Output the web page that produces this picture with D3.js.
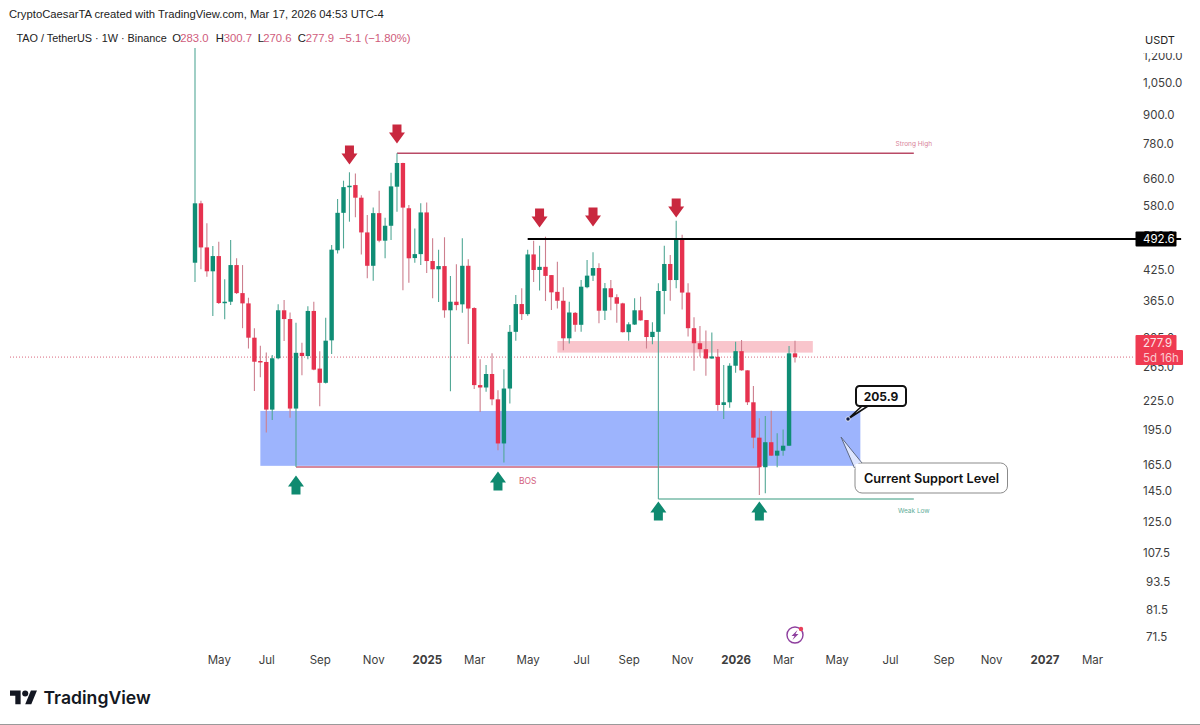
<!DOCTYPE html>
<html>
<head>
<meta charset="utf-8">
<script src="https://cdnjs.cloudflare.com/ajax/libs/d3/7.8.5/d3.min.js"></script>
<style>
  html, body { margin: 0; padding: 0; background: #fff; }
  text { font-family: Inter, "Noto Sans", sans-serif; }
  .tick text { fill: #3d3d3d; }
</style>
</head>
<body>
<div id="chart"></div>
<script>
// weekly candles, first bar is the week of Apr 8 2024
var firstWeek = "2024-04-08", lastWeek = "2026-03-16";

var opens = [439.2,585.8,473,421.3,453.6,361.7,363.5,434.2,379,360.6,305.3,272.7,271.4,215.4,276.3,348.7,334.2,216.5,283.7,279.3,347.6,262.8,245.3,301.4,466.6,559.4,633.7,640,602,508.7,432.7,558.6,488.7,525.4,635,712.3,572,449.2,457.9,560.5,442.8,425.4,432.1,348.7,363.5,358.9,432.7,352.5,242.6,239.8,256,226.4,182.8,238.6,314.1,359.4,342.3,457.2,424,430.5,413.6,381.3,365.2,304.4,344.4,325,390,412.5,428,348,388,371.5,360.6,313.6,325.4,348.7,332.6,306.3,314.1,382.9,436.5,403.8,492,380,319.7,297.2,288.7,276,278.3,220.3,223.2,266.5,286,260.6,223.2,188,162.9,183.9,172.3,176.5,180.8,283];
var highs = [1245,593.3,531.7,476.1,486.4,405.2,490.4,448.7,434.2,370.6,319.7,293.6,284.2,280.6,358.9,366.5,345,328.3,298,355.8,363.5,286,336.3,478.5,598.2,653.8,681,677.3,609,553.4,573.8,622.8,546.4,679.7,746.7,713.5,581,518.6,585.8,587.8,494.4,467.9,496.9,411.9,435.7,494.4,446.5,354,274.9,267.4,283,236.5,261.9,324.5,375.5,388,467.9,488.7,477,498.2,413.6,441.3,390,363.5,345.7,403.8,445,462.3,438,398,403.8,377,361.7,329,369.5,372.5,332.6,329,397.5,477,456,538.5,503,397.5,337,323,316,313,289,267.4,269.7,299.4,301.9,260.6,241.5,206.5,208.9,214.3,192,195.7,293.3,300.7];
var lows = [399.9,425.6,410.3,339.1,359.4,333.7,357.6,377.2,319.7,289.7,235.8,251.9,192.7,204.8,274.9,300.4,207.1,163.1,254.6,274.9,260.6,219,244.6,282,459.5,470.7,535.9,547.4,457.2,407.1,402.4,485,448.7,490.4,562.5,384.3,398.5,439.2,434.2,418,369.5,362.9,336.3,235.5,348.7,344.4,296.2,238,213,234.9,220,176.8,166.7,222,300.9,332.6,339.6,400,384,364.7,349,351.7,287.3,297,314.1,314.1,388,402,327.3,332.6,348.7,328.3,313,300.9,324.5,331.6,289.7,295.8,139.7,342,365.2,388,350,306.9,260.2,278.8,254,275.5,214.3,205.9,217.4,257.6,260.2,220.3,178.6,142.4,143.5,172,162.9,172.3,180.5,270.6];
var closes = [585.8,473,421.3,453.6,361.2,363.5,434.2,379,360.6,305.3,271.7,271.4,215.4,276.3,348.7,334.2,216.5,283.7,279.3,347.6,261.5,245.3,300.9,467.9,559.4,633.7,638,602,508.7,432.7,558.6,488.7,525.4,636,712.3,573.8,448.7,457.9,560.5,442.8,425.4,432.1,348.7,363.5,357.6,432.7,351.7,242.6,239.8,256,226.4,182.8,238.6,314.1,359.4,342.3,457.2,424,430.5,412,380.4,365.2,304.4,345,325,391,412.5,428,348,388,371.5,360,313.6,325.8,348.7,332,306.3,314.1,382.9,436.5,403.8,490.4,380,319.7,297.2,288.7,276,278.8,220.3,223.2,266.5,286,260.6,223.2,188,162.9,183.9,172.3,176.5,180.8,283,277.9];

// price axis
var priceTicks = [1200,1050,900,780,660,580,500,425,365,305,265,225,195,165,145,125,107.5,93.5,81.5,71.5];
// time axis, each label sits on the first weekly bar of its month
var timeTicks = ["2024-05-06","2024-07-01","2024-09-02","2024-11-04","2025-01-06","2025-03-03","2025-05-05","2025-07-07","2025-09-01","2025-11-03","2026-01-05","2026-03-02","2026-05-04","2026-07-06","2026-09-07","2026-11-02","2027-01-04","2027-03-01"];
var timeLabels = ["May","Jul","Sep","Nov","2025","Mar","May","Jul","Sep","Nov","2026","Mar","May","Jul","Sep","Nov","2027","Mar"];

// drawings on the chart, as week + price
var downArrows = [["2024-10-07",740.6],["2024-12-02",820],["2025-05-19",545.6],["2025-07-21",548],["2025-10-27",572.7]];
var upArrows = [["2024-08-05",149.4],["2025-03-31",152.4],["2025-10-06",131.8],["2026-02-02",131.8]];

var parseDay = d3.utcParse("%Y-%m-%d");
var weeks = d3.utcMonday.range(parseDay(firstWeek), d3.utcDay.offset(parseDay(lastWeek), 1));
var candles = weeks.map(function(w, i) {
    return {date: w, open: opens[i], high: highs[i], low: lows[i], close: closes[i]};
});

var width = 1200, height = 725;
var svg = d3.select("#chart").append("svg")
    .attr("width", width)
    .attr("height", height)
    .style("display", "block");

var x = d3.scaleUtc()
    .domain([parseDay(firstWeek), parseDay(lastWeek)])
    .range([195, 795]);
var y = d3.scaleLog()
    .domain([1050, 71.5])
    .range([83, 637]);
var barW = (x(weeks[1]) - x(weeks[0])) * 0.74;

var greenBody = "#0f8d75", redBody = "#e6324f";
var greenWick = "#52a896", redWick = "#cd7f8e";

// support zone + resistance zone
function zone(from, to, top, bottom, fill) {
    svg.append("rect")
        .attr("x", x(parseDay(from)))
        .attr("y", y(top))
        .attr("width", x(parseDay(to)) - x(parseDay(from)))
        .attr("height", y(bottom) - y(top))
        .attr("fill", fill);
}
zone("2024-06-24", "2026-06-01", 214, 164, "#9db4fd");
zone("2025-06-09", "2026-04-06", 300.4, 284, "#f9c5cc");

function level(from, to, price, color, w) {
    svg.append("line")
        .attr("x1", x(parseDay(from)))
        .attr("x2", x(parseDay(to)))
        .attr("y1", y(price))
        .attr("y2", y(price))
        .attr("stroke", color)
        .attr("stroke-width", w);
}
level("2024-08-05", "2026-02-02", 163.1, "#c9627c", 1.5);
level("2024-12-02", "2026-08-03", 746.7, "#b94a66", 1.5);
level("2025-10-06", "2026-08-03", 139.7, "#78bba8", 1.5);

// last price dotted line
svg.append("line")
    .attr("x1", 10)
    .attr("x2", 1135)
    .attr("y1", y(closes[closes.length - 1]))
    .attr("y2", y(closes[closes.length - 1]))
    .attr("stroke", "#d9667c")
    .attr("stroke-width", 1)
    .attr("stroke-dasharray", "1 2");

// candles
var candle = svg.append("g").selectAll("g").data(candles).enter().append("g");
candle.append("line")
    .attr("x1", function(d) { return x(d.date); })
    .attr("x2", function(d) { return x(d.date); })
    .attr("y1", function(d) { return y(d.high); })
    .attr("y2", function(d) { return y(d.low); })
    .attr("stroke-width", 1.1)
    .attr("stroke", function(d) { return d.close >= d.open ? greenWick : redWick; });
candle.append("rect")
    .attr("x", function(d) { return x(d.date) - barW / 2; })
    .attr("width", barW)
    .attr("y", function(d) { return y(Math.max(d.open, d.close)); })
    .attr("height", function(d) { return Math.max(1.5, Math.abs(y(d.open) - y(d.close))); })
    .attr("fill", function(d) { return d.close >= d.open ? greenBody : redBody; });

// black level + its label
level("2025-05-05", "2027-06-14", 492.6, "#000", 2);

// arrows
var downShape = "M-4.5,-9.5 H4.5 V-1.5 H8 L0,9.5 L-8,-1.5 H-4.5 Z";
var upShape = "M-4.5,9.5 H4.5 V1.5 H8 L0,-9.5 L-8,1.5 H-4.5 Z";
svg.append("g").selectAll("path").data(downArrows).enter().append("path")
    .attr("d", downShape)
    .attr("fill", "#c9283f")
    .attr("transform", function(d) { return "translate(" + x(parseDay(d[0])) + "," + y(d[1]) + ")"; });
svg.append("g").selectAll("path").data(upArrows).enter().append("path")
    .attr("d", upShape)
    .attr("fill", "#0f8a70")
    .attr("transform", function(d) { return "translate(" + x(parseDay(d[0])) + "," + y(d[1]) + ")"; });

// small notes
function note(week, price, txt, color, size, anchor) {
    svg.append("text")
        .attr("x", x(parseDay(week)))
        .attr("y", y(price))
        .attr("text-anchor", anchor || "middle")
        .attr("fill", color)
        .attr("font-size", size)
        .text(txt);
}
note("2026-08-03", 775, "Strong High", "#d8839a", 6.5);
note("2025-05-05", 150, "BOS", "#d4627f", 8.5);
note("2026-08-03", 130.5, "Weak Low", "#5fae99", 6.5);

// callouts
svg.append("path")
    .attr("d", "M862,406 L848,419 L868,406")
    .attr("fill", "#fff")
    .attr("stroke", "#111")
    .attr("stroke-width", 1.6);
svg.append("circle")
    .attr("cx", 848).attr("cy", 419).attr("r", 2.2)
    .attr("fill", "#0b1a4a").attr("stroke", "#fff").attr("stroke-width", 0.8);
svg.append("rect")
    .attr("x", 856).attr("y", 386).attr("width", 50).attr("height", 20).attr("rx", 3.5)
    .attr("fill", "#fff").attr("stroke", "#111").attr("stroke-width", 2);
svg.append("text")
    .attr("x", 881).attr("y", 400.5)
    .attr("text-anchor", "middle")
    .attr("font-size", 12).attr("font-weight", 700).attr("fill", "#111")
    .text("205.9");

svg.append("path")
    .attr("d", "M854.5,468 L841,437 L862,463")
    .attr("fill", "#fff").attr("fill-opacity", 0.65)
    .attr("stroke", "#5e6a86").attr("stroke-width", 1);
svg.append("rect")
    .attr("x", 855).attr("y", 463).attr("width", 152.5).attr("height", 30).attr("rx", 7)
    .attr("fill", "#fff").attr("stroke", "#8b8b8b").attr("stroke-width", 1);
svg.append("path")
    .attr("d", "M855.5,469 L855.5,464 L861.5,463.5 Z")
    .attr("fill", "#fff");
svg.append("text")
    .attr("x", 931.5).attr("y", 482.5)
    .attr("text-anchor", "middle")
    .attr("font-size", 12.7).attr("font-weight", 600).attr("fill", "#111")
    .text("Current Support Level");

// axes
var yAxis = d3.axisRight(y)
    .tickValues(priceTicks)
    .tickSize(0)
    .tickFormat(d3.format(",.1f"));
var yG = svg.append("g")
    .attr("transform", "translate(1143,0)")
    .call(yAxis);
yG.select(".domain").remove();
yG.selectAll("text")
    .attr("x", function(d) { return d < 100 ? 3 : 0; })
    .attr("font-size", 11.5)
    .style("font-family", "Inter, sans-serif");

var xAxis = d3.axisBottom(x)
    .tickValues(timeTicks.map(parseDay))
    .tickSize(0)
    .tickFormat(function(d, i) { return timeLabels[i]; });
var xG = svg.append("g")
    .attr("transform", "translate(0,653)")
    .call(xAxis);
xG.select(".domain").remove();
xG.selectAll("text")
    .attr("font-size", 11.5)
    .attr("font-weight", function(d, i) { return timeLabels[i].length == 4 ? 700 : 400; })
    .style("font-family", "Inter, sans-serif");

// USDT header covers the top tick
svg.append("rect")
    .attr("x", 1137).attr("y", 25).attr("width", 50).attr("height", 28)
    .attr("fill", "#fff");
svg.append("text")
    .attr("x", 1160).attr("y", 43.5)
    .attr("text-anchor", "middle")
    .attr("font-size", 11).attr("fill", "#222")
    .text("USDT");

// price tags
function tag(tx, ty, w, h, fill, txt, color) {
    svg.append("rect")
        .attr("x", tx).attr("y", ty).attr("width", w).attr("height", h).attr("rx", 1)
        .attr("fill", fill);
    svg.append("text")
        .attr("x", 1143).attr("y", ty + h / 2 + 4)
        .attr("font-size", 11.5)
        .attr("fill", color)
        .text(txt);
}
tag(1135.5, y(492.6) - 7.5, 41, 15, "#000", "492.6", "#fff");
tag(1135.5, 335, 41, 16, "#ef3b52", "277.9", "#fde3e6");
tag(1135.5, 350, 47.5, 15, "#ef3b52", "5d 16h", "#fbc9cf");

// header texts
var headerFont = "'Liberation Sans', Arial, sans-serif";
svg.append("text")
    .attr("x", 9).attr("y", 18)
    .attr("font-size", 11.26).attr("fill", "#222")
    .style("font-family", headerFont)
    .text("CryptoCaesarTA created with TradingView.com, Mar 17, 2026 04:53 UTC-4");

var legendParts = [
    ["TAO / TetherUS · 1W · Binance", "#222", 16.5],
    ["O", "#222", 172.3],
    ["283.0", "#cf5c7c", 180.3],
    ["H", "#222", 215.7],
    ["300.7", "#cf5c7c", 223.7],
    ["L", "#222", 257.7],
    ["270.6", "#cf5c7c", 263.3],
    ["C", "#222", 297.7],
    ["277.9", "#cf5c7c", 305.7],
    ["−5.1 (−1.80%)", "#cf5c7c", 339]
];
svg.append("g").selectAll("text").data(legendParts).enter().append("text")
    .attr("x", function(d) { return d[2]; })
    .attr("y", 42)
    .attr("font-size", function(d, i) { return i == 0 ? 10.85 : 11.3; })
    .attr("fill", function(d) { return d[1]; })
    .style("font-family", headerFont)
    .text(function(d) { return d[0]; });

// lightning badge near the last bar
var badge = svg.append("g").attr("transform", "translate(795,635)");
badge.append("circle").attr("r", 8).attr("fill", "#fff").attr("stroke", "#8e3f9e").attr("stroke-width", 1.4);
badge.append("path").attr("d", "M2.5,-5 L-3.5,1 H-0.5 L-2.5,5 L3.5,-1 H0.5 Z").attr("fill", "#8e3f9e");
badge.append("circle").attr("cx", 6).attr("cy", -6).attr("r", 2.2).attr("fill", "#e8405a");

// logo
svg.append("path")
    .attr("transform", "translate(10,687.5) scale(0.76)")
    .attr("d", "M14 22H7V11H0V4h14v18zM28 22h-8l7.5-18h8L28 22z")
    .attr("fill", "#131722");
svg.append("circle")
    .attr("cx", 10 + 20 * 0.76).attr("cy", 687.5 + 8 * 0.76).attr("r", 4 * 0.76)
    .attr("fill", "#131722");
svg.append("text")
    .attr("x", 43.5).attr("y", 704)
    .attr("font-size", 17.6).attr("font-weight", 600).attr("fill", "#131722")
    .text("TradingView");

// bottom edge of the screenshot
svg.append("line")
    .attr("x1", 0).attr("x2", width)
    .attr("y1", 724.5).attr("y2", 724.5)
    .attr("stroke", "#9a9a9a");
</script>
</body>
</html>
